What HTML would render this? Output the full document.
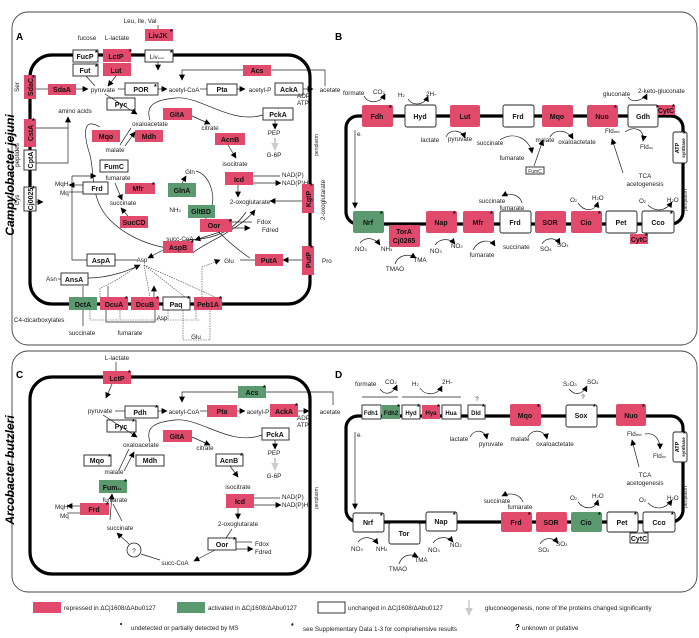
<!DOCTYPE html>
<html><head><meta charset="utf-8"><style>
html,body{margin:0;padding:0;background:#fff}
svg{display:block;font-family:"Liberation Sans",sans-serif}
.r{fill:#e24a6c}.g{fill:#5b9a6f}.w{fill:#fff;stroke:#222;stroke-width:.9}
.b{font-size:7px;font-weight:bold;text-anchor:middle;fill:#111}
.t{font-size:6.3px;fill:#222}
.c{text-anchor:middle}
.m{fill:none;stroke:#000;stroke-width:3.2}
.f{fill:none;stroke:#444;stroke-width:.9}
.l{fill:none;stroke:#222;stroke-width:.7}
.d{fill:none;stroke:#444;stroke-width:.6;stroke-dasharray:1.5 1}
.s{font-size:6px;font-weight:bold}
</style></head><body>
<svg width="699" height="638" viewBox="0 0 699 638" xmlns="http://www.w3.org/2000/svg">
<defs><marker id="a" viewBox="0 0 10 10" refX="9" refY="5" markerUnits="userSpaceOnUse" markerWidth="6" markerHeight="6" orient="auto"><path d="M0,0L10,5L0,10z" fill="#000"/></marker>
<marker id="gr" viewBox="0 0 10 10" refX="9" refY="5" markerUnits="userSpaceOnUse" markerWidth="8" markerHeight="8" orient="auto"><path d="M0,0L10,5L0,10z" fill="#ccc"/></marker></defs>

<!-- frames -->
<rect x="12" y="12" width="685" height="333" rx="16" class="f"/>
<rect x="12" y="351" width="685" height="241" rx="16" class="f"/>
<text transform="translate(14,175) rotate(-90)" style="font-size:12px;font-weight:bold;font-style:italic" text-anchor="middle">Campylobacter jejuni</text>
<text transform="translate(14,470) rotate(-90)" style="font-size:12px;font-weight:bold;font-style:italic" text-anchor="middle">Arcobacter butzleri</text>
<text x="16" y="40" style="font-size:10px;font-weight:bold">A</text>
<text x="335" y="40" style="font-size:10px;font-weight:bold">B</text>
<text x="16" y="378" style="font-size:10px;font-weight:bold">C</text>
<text x="335" y="378" style="font-size:10px;font-weight:bold">D</text>

<!-- cells -->
<rect x="30" y="55" width="280" height="249" rx="22" class="m"/>
<rect x="30" y="377" width="280" height="197" rx="22" class="m"/>
<rect x="346" y="116" width="337" height="108" rx="12" class="m"/>
<rect x="346" y="416" width="337" height="106" rx="12" class="m"/>

<!-- ===== Panel A ===== -->
<g>
<text x="140" y="23" class="t c">Leu, Ile, Val</text>
<line x1="158" y1="25" x2="158" y2="30" class="l"/>
<rect x="145" y="29" width="28" height="12" class="r"/><text x="158" y="38" class="b">LivJK</text>
<text x="87" y="40" class="t c">fucose</text><text x="117" y="40" class="t c">L-lactate</text>
<rect x="73" y="50" width="25" height="12" class="w"/><text x="85" y="59" class="b">FucP</text>
<rect x="103" y="49" width="28" height="13" class="r"/><text x="116" y="59" class="b">LctP</text>
<rect x="145" y="50" width="28" height="12" class="w"/><text x="157" y="59" class="t c">Liv<tspan style="font-size:3px">Leim</tspan></text>
<rect x="73" y="64" width="25" height="12" class="w"/><text x="85" y="73" class="b">Fut</text>
<rect x="103" y="63" width="28" height="13" class="r"/><text x="116" y="73" class="b">Lut</text>
<rect x="243" y="65" width="28" height="11" class="r"/><text x="257" y="73" class="b">Acs</text>
<path d="M271,70H325V86" class="l"/><path d="M243,70H182V80" class="l" marker-end="url(#a)"/>
<rect x="24" y="75" width="12" height="24" class="r"/><text transform="translate(33,87) rotate(-90)" class="b">SdaC</text>
<text transform="translate(19,87) rotate(-90)" class="t c">Ser</text>
<rect x="48" y="84" width="28" height="11" class="r"/><text x="62" y="92" class="b">SdaA</text>
<line x1="36" y1="89" x2="48" y2="89" class="l"/><line x1="76" y1="89" x2="88" y2="89" class="l" marker-end="url(#a)"/>
<text x="103" y="92" class="t c">pyruvate</text>
<line x1="118" y1="89" x2="125" y2="89" class="l"/>
<rect x="125" y="83" width="33" height="12" class="w"/><text x="141" y="92" class="b">POR</text>
<line x1="158" y1="89" x2="167" y2="89" class="l" marker-end="url(#a)"/>
<text x="184" y="92" class="t c">acetyl-CoA</text>
<line x1="200" y1="89" x2="207" y2="89" class="l"/>
<rect x="207" y="84" width="30" height="11" class="w"/><text x="222" y="92" class="b">Pta</text>
<line x1="237" y1="89" x2="245" y2="89" class="l" marker-end="url(#a)"/>
<text x="260" y="92" class="t c">acetyl-P</text>
<rect x="275" y="83" width="28" height="12" class="w"/><text x="289" y="92" class="b">AckA</text>
<line x1="303" y1="89" x2="313" y2="89" class="l" marker-end="url(#a)"/>
<text x="330" y="92" class="t c">acetate</text>
<text x="297" y="98" class="t">ADP</text><text x="297" y="105" class="t">ATP</text>
<path d="M86,76L95,86M116,76L108,86" class="l" marker-end="url(#a)"/>
<line x1="158" y1="62" x2="158" y2="70" class="l" marker-end="url(#a)"/>
<rect x="107" y="98" width="28" height="12" class="w"/><text x="121" y="107" class="b">Pyc</text>
<path d="M105,94L137,114" class="l" marker-end="url(#a)"/>
<text x="75" y="113" class="t c">amino acids</text>
<path d="M36,163H68V117" class="l" marker-end="url(#a)"/>
<path d="M36,128H68" class="l"/>
<rect x="163" y="108" width="29" height="12" class="r"/><text x="177" y="117" class="b">GltA</text>
<path d="M192,116L210,124" class="l" marker-end="url(#a)"/>
<path d="M150,120C145,105 155,100 175,98C200,95 230,125 263,115" class="l"/>
<rect x="263" y="108" width="30" height="12" class="w"/><text x="278" y="117" class="b">PckA</text>
<line x1="275" y1="120" x2="275" y2="129" class="l" marker-end="url(#a)"/>
<text x="274" y="135" class="t c">PEP</text>
<line x1="275" y1="138" x2="275" y2="150" stroke="#ccc" stroke-width="2" marker-end="url(#gr)"/>
<text x="274" y="157" class="t c">G-6P</text>
<text x="150" y="126" class="t c">oxaloacetate</text>
<text x="210" y="130" class="t c">citrate</text>
<rect x="92" y="130" width="28" height="12" class="r"/><text x="106" y="139" class="b">Mqo</text>
<rect x="135" y="130" width="28" height="12" class="r"/><text x="149" y="139" class="b">Mdh</text>
<path d="M120,145L131,128M125,146L135,132" class="l" marker-end="url(#a)"/>
<rect x="215" y="133" width="30" height="12" class="r"/><text x="230" y="142" class="b">AcnB</text>
<line x1="228" y1="145" x2="236" y2="158" class="l" marker-end="url(#a)"/>
<text x="115" y="152" class="t c">malate</text>
<text x="235" y="166" class="t c">isocitrate</text>
<rect x="100" y="160" width="28" height="12" class="w"/><text x="114" y="169" class="b">FumC</text>
<path d="M100,127C80,115 85,140 90,155C95,175 90,200 110,220C130,240 160,250 190,250" class="l"/>
<text x="118" y="180" class="t c">fumarate</text>
<path d="M72,176H96" class="l" marker-end="url(#a)"/><path d="M72,176V260H87" class="l"/>
<rect x="225" y="172" width="28" height="13" class="r"/><text x="239" y="182" class="b">Icd</text>
<text x="282" y="177" class="t">NAD(P)</text><text x="282" y="185" class="t">NAD(P)H</text>
<path d="M253,176H280" class="l"/><path d="M253,183H281" class="l" marker-end="url(#a)"/>
<line x1="238" y1="185" x2="238" y2="197" class="l" marker-end="url(#a)"/>
<text x="55" y="186" class="t">MqH</text><text x="60" y="195" class="t">Mq</text>
<rect x="83" y="182" width="25" height="12" class="w"/><text x="97" y="191" class="b">Frd</text>
<path d="M83,185H69" class="l" marker-end="url(#a)"/><path d="M69,192H83" class="l"/>
<rect x="125" y="183" width="30" height="11" class="r"/><text x="138" y="191" class="b">Mfr</text>
<path d="M115,183L122,200" class="l" marker-end="url(#a)"/>
<text x="123" y="205" class="t c">succinate</text>
<rect x="168" y="183" width="28" height="14" class="g"/><text x="182" y="193" class="b">GlnA</text>
<text x="190" y="174" class="t c">Gln</text>
<path d="M182,183L186,176" class="l" marker-end="url(#a)"/>
<path d="M196,171C210,175 215,195 212,205" class="l"/>
<path d="M196,205C205,220 230,245 250,258" class="l"/>
<path d="M193,253C200,245 240,230 255,210" class="l" marker-end="url(#a)"/>
<path d="M185,240C205,240 230,236 246,212" class="l"/>
<text x="175" y="212" class="t c">NH<tspan style="font-size:4px">3</tspan></text>
<rect x="188" y="205" width="27" height="13" class="g"/><text x="201" y="214" class="b">GltBD</text>
<text x="250" y="204" class="t c">2-oxoglutarate</text>
<path d="M302,201H270" class="l" marker-end="url(#a)"/>
<rect x="302" y="184" width="12" height="29" class="r"/><text transform="translate(311,199) rotate(-90)" class="b">KgtP</text>
<text transform="translate(325,200) rotate(-90)" class="t c">2-oxoglutarate</text>
<text transform="translate(318,145) rotate(-90)" class="t c" style="font-size:5px">periplasm</text>
<rect x="120" y="216" width="28" height="12" class="r"/><text x="134" y="225" class="b">SucCD</text>
<path d="M128,216L121,208" class="l" marker-end="url(#a)"/>
<rect x="200" y="219" width="32" height="13" class="r"/><text x="214" y="228" class="b">Oor</text>
<text x="257" y="224" class="t">Fdox</text><text x="262" y="232" class="t">Fdred</text>
<path d="M232,222H252" class="l"/><path d="M232,228H250" class="l" marker-end="url(#a)"/>
<path d="M220,232L195,240" class="l" marker-end="url(#a)"/>
<text x="180" y="241" class="t c">succ-CoA</text>
<rect x="163" y="241" width="30" height="12" class="r"/><text x="178" y="250" class="b">AspB</text>
<path d="M163,250L148,258" class="l" marker-end="url(#a)"/>
<text x="142" y="262" class="t c">Asp</text><text x="229" y="263" class="t c">Glu</text>
<rect x="255" y="254" width="28" height="12" class="r"/><text x="269" y="263" class="b">PutA</text>
<path d="M255,260H240M302,260H283" class="l" marker-end="url(#a)"/>
<rect x="302" y="246" width="12" height="29" class="r"/><text transform="translate(311,260) rotate(-90)" class="b">PutP</text>
<text x="322" y="263" class="t">Pro</text>
<rect x="87" y="254" width="28" height="12" class="w"/><text x="101" y="263" class="b">AspA</text>
<line x1="115" y1="260" x2="137" y2="260" class="l"/>
<text x="46" y="281" class="t">Asn</text><line x1="58" y1="279" x2="61" y2="279" class="l"/>
<rect x="61" y="273" width="27" height="12" class="w"/><text x="74" y="282" class="b">AnsA</text>
<path d="M88,278C110,278 130,270 140,265" class="l" marker-end="url(#a)"/>
<path d="M100,297V288C120,280 130,270 140,265M144,265L150,297M144,265L185,297M144,265L215,297" class="d"/>
<path d="M83,297V286M108,297V286M154,297V286" class="l" marker-end="url(#a)"/>
<path d="M202,300V267L220,260" class="d" marker-end="url(#a)"/>
<rect x="24" y="119" width="12" height="28" class="r"/><text transform="translate(33,133) rotate(-90)" class="b">CstA</text>
<text transform="translate(19,155) rotate(-90)" class="t c">peptides</text>
<rect x="24" y="150" width="12" height="20" class="w"/><text transform="translate(33,160) rotate(-90)" class="b">CptA</text>
<rect x="24" y="187" width="12" height="24" class="w"/><text transform="translate(33,199) rotate(-90)" class="b">Cj0025</text>
<text transform="translate(19,200) rotate(-90)" class="t c">Cys</text>
<path d="M36,202H43" class="l" marker-end="url(#a)"/>
<rect x="69" y="297" width="28" height="13" class="g"/><text x="83" y="307" class="b">DctA</text>
<rect x="100" y="297" width="28" height="13" class="r"/><text x="114" y="307" class="b">DcuA</text>
<rect x="131" y="297" width="28" height="13" class="r"/><text x="145" y="307" class="b">DcuB</text>
<rect x="163" y="297" width="27" height="13" class="w"/><text x="176" y="307" class="b">Paq</text>
<rect x="194" y="297" width="28" height="13" class="r"/><text x="208" y="307" class="b">Peb1A</text>
<text x="14" y="322" class="t">C4-dicarboxylates</text>
<path d="M83,310V326M106,310V322H155V310" class="l"/>
<path d="M90,310V320H200M120,310V320M168,310V320M196,310V320" class="d"/>
<path d="M183,310V340H210V310" class="d"/>
<text x="82" y="335" class="t c">succinate</text><text x="130" y="335" class="t c">fumarate</text>
<text x="162" y="320" class="t c">Asp</text><text x="196" y="339" class="t c">Glu</text>
</g>

<!-- ===== Panel B ===== -->
<g>
<rect x="362" y="105" width="31" height="22" rx="2" class="r"/><text x="377" y="119" class="b">Fdh</text>
<rect x="405" y="105" width="31" height="22" rx="2" class="w"/><text x="420" y="119" class="b">Hyd</text>
<rect x="450" y="105" width="30" height="22" rx="2" class="r"/><text x="465" y="119" class="b">Lut</text>
<rect x="503" y="105" width="31" height="22" rx="2" class="w"/><text x="518" y="119" class="b">Frd</text>
<rect x="542" y="105" width="31" height="22" rx="2" class="r"/><text x="557" y="119" class="b">Mqo</text>
<rect x="587" y="105" width="31" height="22" rx="2" class="r"/><text x="602" y="119" class="b">Nuo</text>
<rect x="628" y="105" width="30" height="22" rx="2" class="w"/><text x="643" y="119" class="b">Gdh</text>
<rect x="658" y="105" width="17" height="10" class="r"/><text x="666" y="113" class="b">CytC</text>
<rect x="673" y="132" width="14" height="31" rx="2" class="w"/>
<text transform="translate(679,148) rotate(-90)" class="b" style="font-size:5.5px">ATP</text>
<text transform="translate(685,148) rotate(-90)" class="b" style="font-size:4.5px">synthase</text>
<text transform="translate(687,200) rotate(-90)" class="t c" style="font-size:5px">periplasm</text>
<text x="343" y="95" class="t">formate</text><text x="373" y="94" class="t">CO<tspan style="font-size:4px">2</tspan></text>
<path d="M364,96C368,104 380,104 385,94" class="l" marker-end="url(#a)"/>
<text x="398" y="97" class="t">H<tspan style="font-size:4px">2</tspan></text><text x="426" y="96" class="t">2H<tspan style="font-size:4px">+</tspan></text>
<path d="M408,99C412,106 424,106 428,96" class="l" marker-end="url(#a)"/>
<text x="603" y="96" class="t">gluconate</text><text x="638" y="93" class="t">2-keto-gluconate</text>
<path d="M628,97C632,104 644,100 647,94" class="l" marker-end="url(#a)"/>
<text x="357" y="136" class="t">e<tspan style="font-size:4px">-</tspan></text>
<line x1="355" y1="130" x2="355" y2="208" class="l" marker-end="url(#a)"/>
<text x="430" y="142" class="t c">lactate</text><text x="460" y="141" class="t c">pyruvate</text>
<path d="M446,137C450,128 462,130 465,138" class="l" marker-end="url(#a)"/>
<text x="490" y="145" class="t c">succinate</text>
<path d="M500,140C515,130 530,140 532,153" class="l" marker-end="url(#a)"/>
<text x="512" y="160" class="t c">fumarate</text>
<rect x="526" y="167" width="18" height="7" class="w"/><text x="535" y="173" class="t c" style="font-size:5px">FumC</text>
<path d="M534,166L543,140" class="l" marker-end="url(#a)"/>
<text x="545" y="142" class="t c">malate</text><text x="577" y="144" class="t c">oxaloactetate</text>
<path d="M550,137C555,128 568,130 573,139" class="l" marker-end="url(#a)"/>
<text x="605" y="133" class="t">Fld<tspan style="font-size:4px">red</tspan></text><text x="640" y="149" class="t">Fld<tspan style="font-size:4px">ox</tspan></text>
<path d="M625,132C635,125 645,130 643,141" class="l" marker-end="url(#a)"/>
<path d="M623,173L612,139" class="l" marker-end="url(#a)"/>
<text x="645" y="178" class="t c">TCA</text><text x="645" y="186" class="t c">acetogenesis</text>
<rect x="353" y="211" width="31" height="22" rx="2" class="g"/><text x="368" y="225" class="b">Nrf</text>
<rect x="389" y="225" width="31" height="22" rx="2" class="r"/><text x="404" y="234" class="b">TorA</text><text x="404" y="243" class="b">Cj0265</text>
<rect x="426" y="211" width="31" height="22" rx="2" class="r"/><text x="441" y="225" class="b">Nap</text>
<rect x="463" y="211" width="31" height="22" rx="2" class="r"/><text x="478" y="225" class="b">Mfr</text>
<rect x="500" y="211" width="31" height="22" rx="2" class="w"/><text x="515" y="225" class="b">Frd</text>
<rect x="535" y="211" width="31" height="22" rx="2" class="r"/><text x="550" y="225" class="b">SOR</text>
<rect x="571" y="211" width="31" height="22" rx="2" class="r"/><text x="586" y="225" class="b">Cio</text>
<rect x="606" y="211" width="31" height="22" rx="2" class="w"/><text x="621" y="225" class="b">Pet</text>
<rect x="642" y="211" width="32" height="22" rx="2" class="w"/><text x="658" y="225" class="b">Cco</text>
<rect x="630" y="234" width="18" height="10" class="r"/><text x="639" y="242" class="b">CytC</text>
<text x="492" y="203" class="t c">succinate</text><text x="512" y="210" class="t c">fumarate</text>
<path d="M522,203C520,195 510,192 502,196" class="l" marker-end="url(#a)"/>
<text x="570" y="202" class="t">O<tspan style="font-size:4px">2</tspan></text><text x="592" y="200" class="t">H<tspan style="font-size:4px">2</tspan>O</text>
<path d="M578,203C584,212 595,212 598,202" class="l" marker-end="url(#a)"/>
<text x="639" y="203" class="t">O<tspan style="font-size:4px">2</tspan></text><text x="667" y="202" class="t">H<tspan style="font-size:4px">2</tspan>O</text>
<path d="M648,205C655,212 665,212 672,202" class="l" marker-end="url(#a)"/>
<text x="355" y="251" class="t">NO<tspan style="font-size:4px">3</tspan></text><text x="381" y="251" class="t">NH<tspan style="font-size:4px">4</tspan></text>
<path d="M360,243C366,236 375,238 380,245" class="l" marker-end="url(#a)"/>
<text x="395" y="271" class="t c">TMAO</text><text x="420" y="262" class="t c">TMA</text>
<path d="M395,264C398,255 408,253 416,258" class="l" marker-end="url(#a)"/>
<text x="430" y="253" class="t">NO<tspan style="font-size:4px">3</tspan></text><text x="451" y="248" class="t">NO<tspan style="font-size:4px">2</tspan></text>
<path d="M435,245C440,238 450,238 455,244" class="l" marker-end="url(#a)"/>
<text x="482" y="257" class="t c">fumarate</text><text x="503" y="249" class="t">succinate</text>
<path d="M473,250C478,240 490,238 495,246" class="l" marker-end="url(#a)"/>
<text x="540" y="251" class="t">SO<tspan style="font-size:4px">4</tspan></text><text x="557" y="247" class="t">SO<tspan style="font-size:4px">3</tspan></text>
<path d="M542,244C546,237 556,237 560,244" class="l" marker-end="url(#a)"/>
</g>

<!-- ===== Panel C ===== -->
<g>
<text x="117" y="360" class="t c">L-lactate</text><line x1="116" y1="362" x2="116" y2="371" class="l"/>
<rect x="103" y="371" width="28" height="13" class="r"/><text x="117" y="381" class="b">LctP</text>
<path d="M112,384L106,398" class="l" marker-end="url(#a)"/>
<rect x="238" y="386" width="28" height="12" class="g"/><text x="252" y="395" class="b">Acs</text>
<path d="M266,392H333V405" class="l"/><path d="M238,392H182V402" class="l" marker-end="url(#a)"/>
<text x="100" y="413" class="t c">pyruvate</text>
<line x1="115" y1="411" x2="125" y2="411" class="l"/>
<rect x="125" y="406" width="33" height="12" class="w"/><text x="140" y="415" class="b">Pdh</text>
<line x1="158" y1="411" x2="167" y2="411" class="l" marker-end="url(#a)"/>
<text x="184" y="414" class="t c">acetyl-CoA</text><line x1="200" y1="411" x2="207" y2="411" class="l"/>
<rect x="207" y="405" width="30" height="12" class="r"/><text x="222" y="414" class="b">Pta</text>
<line x1="237" y1="411" x2="245" y2="411" class="l" marker-end="url(#a)"/>
<text x="258" y="414" class="t c">acetyl-P</text>
<rect x="270" y="404" width="28" height="13" class="r"/><text x="284" y="414" class="b">AckA</text>
<line x1="298" y1="411" x2="309" y2="411" class="l" marker-end="url(#a)"/>
<text x="330" y="414" class="t c">acetate</text>
<text x="297" y="420" class="t">ADP</text><text x="297" y="427" class="t">ATP</text>
<rect x="107" y="420" width="29" height="12" class="w"/><text x="121" y="429" class="b">Pyc</text>
<path d="M103,415L137,437" class="l" marker-end="url(#a)"/>
<rect x="163" y="430" width="29" height="12" class="r"/><text x="177" y="439" class="b">GltA</text>
<path d="M192,437L210,445" class="l" marker-end="url(#a)"/>
<path d="M150,442C145,427 155,422 175,420C200,417 230,447 262,435" class="l"/>
<rect x="262" y="428" width="27" height="12" class="w"/><text x="275" y="437" class="b">PckA</text>
<line x1="275" y1="440" x2="275" y2="449" class="l" marker-end="url(#a)"/>
<text x="274" y="455" class="t c">PEP</text>
<line x1="275" y1="458" x2="275" y2="470" stroke="#ccc" stroke-width="2" marker-end="url(#gr)"/>
<text x="274" y="478" class="t c">G-6P</text>
<text x="141" y="447" class="t c">oxaloacetate</text><text x="205" y="450" class="t c">citrate</text>
<rect x="84" y="455" width="27" height="11" class="w"/><text x="97" y="463" class="b">Mqo</text>
<rect x="136" y="455" width="28" height="11" class="w"/><text x="150" y="463" class="b">Mdh</text>
<path d="M119,470L129,449M124,471L134,452" class="l" marker-end="url(#a)"/>
<rect x="216" y="454" width="27" height="12" class="w"/><text x="229" y="463" class="b">AcnB</text>
<line x1="230" y1="466" x2="238" y2="477" class="l" marker-end="url(#a)"/>
<text x="114" y="474" class="t c">malate</text><text x="238" y="489" class="t c">isocitrate</text>
<rect x="99" y="480" width="28" height="13" class="g"/><text x="112" y="490" class="b">Fum<tspan style="font-size:3px">A1</tspan></text>
<text x="115" y="502" class="t c">fumarate</text>
<path d="M113,504L122,521M110,520L112,494" class="l" marker-end="url(#a)"/>
<rect x="80" y="503" width="29" height="12" class="r"/><text x="94" y="512" class="b">Frd</text>
<text x="55" y="509" class="t">MqH</text><text x="60" y="518" class="t">Mq</text>
<path d="M80,506H67" class="l" marker-end="url(#a)"/><path d="M67,513H80" class="l"/>
<text x="120" y="530" class="t c">succinate</text>
<rect x="226" y="494" width="28" height="14" class="r"/><text x="240" y="504" class="b">Icd</text>
<text x="282" y="499" class="t">NAD(P)</text><text x="282" y="507" class="t">NAD(P)H</text>
<path d="M254,498H280" class="l"/><path d="M254,505H281" class="l" marker-end="url(#a)"/>
<line x1="238" y1="508" x2="238" y2="519" class="l" marker-end="url(#a)"/>
<text x="238" y="526" class="t c">2-oxoglutarate</text>
<line x1="232" y1="529" x2="226" y2="538" class="l"/>
<rect x="208" y="538" width="28" height="12" class="w"/><text x="222" y="547" class="b">Oor</text>
<text x="255" y="546" class="t">Fdox</text><text x="255" y="554" class="t">Fdred</text>
<path d="M236,542H252" class="l"/><path d="M236,549H253" class="l" marker-end="url(#a)"/>
<path d="M215,550L194,561" class="l" marker-end="url(#a)"/>
<text x="175" y="565" class="t c">succ-CoA</text>
<circle cx="134" cy="550" r="7" fill="#fff" stroke="#222" stroke-width=".8"/><text x="134" y="553" class="t c">?</text>
<path d="M160,560L141,554" class="l"/><path d="M129,544L117,533" class="l" marker-end="url(#a)"/>
<text transform="translate(318,498) rotate(-90)" class="t c" style="font-size:5px">periplasm</text>
</g>

<!-- ===== Panel D ===== -->
<g>
<text x="355" y="386" class="t">formate</text><text x="385" y="384" class="t">CO<tspan style="font-size:4px">2</tspan></text>
<path d="M380,389C385,396 393,394 397,385" class="l" marker-end="url(#a)"/>
<text x="412" y="386" class="t">H<tspan style="font-size:4px">2</tspan></text><text x="442" y="384" class="t">2H<tspan style="font-size:4px">+</tspan></text>
<path d="M420,388C425,396 437,396 442,386" class="l" marker-end="url(#a)"/>
<path d="M362,397H398M402,397H461" class="l"/>
<rect x="362" y="405" width="19" height="14" class="w"/><text x="371" y="415" class="b" style="font-size:6px">Fdh1</text>
<rect x="382" y="405" width="18" height="14" class="g"/><text x="391" y="415" class="b" style="font-size:6px">Fdh2</text>
<rect x="402" y="405" width="18" height="14" class="w"/><text x="411" y="415" class="b" style="font-size:6px">Hyd</text>
<rect x="422" y="405" width="18" height="14" class="r"/><text x="431" y="415" class="b" style="font-size:6px">Hya</text>
<rect x="442" y="405" width="19" height="14" class="w"/><text x="451" y="415" class="b" style="font-size:6px">Hua</text>
<rect x="468" y="405" width="17" height="14" class="w"/><text x="476" y="415" class="b" style="font-size:6px">Dld</text>
<text x="477" y="401" class="t c">?</text>
<rect x="510" y="404" width="31" height="22" rx="2" class="r"/><text x="525" y="418" class="b">Mqo</text>
<rect x="566" y="405" width="31" height="22" rx="2" class="w"/><text x="581" y="418" class="b">Sox</text>
<rect x="616" y="404" width="30" height="22" rx="2" class="r"/><text x="631" y="418" class="b">Nuo</text>
<text x="563" y="386" class="t">S<tspan style="font-size:4px">2</tspan>O<tspan style="font-size:4px">3</tspan></text><text x="587" y="384" class="t">SO<tspan style="font-size:4px">4</tspan></text>
<path d="M569,389C575,396 582,395 587,386" class="l" marker-end="url(#a)"/>
<text x="583" y="399" class="t c">?</text>
<rect x="673" y="432" width="14" height="30" rx="2" class="w"/>
<text transform="translate(679,447) rotate(-90)" class="b" style="font-size:5.5px">ATP</text>
<text transform="translate(685,447) rotate(-90)" class="b" style="font-size:4.5px">synthase</text>
<text transform="translate(687,497) rotate(-90)" class="t c" style="font-size:5px">periplasm</text>
<text x="357" y="437" class="t">e<tspan style="font-size:4px">-</tspan></text>
<line x1="355" y1="432" x2="355" y2="509" class="l" marker-end="url(#a)"/>
<text x="459" y="441" class="t c">lactate</text><text x="491" y="446" class="t c">pyruvate</text>
<path d="M470,437C475,428 485,430 487,439" class="l" marker-end="url(#a)"/>
<text x="520" y="441" class="t c">malate</text><text x="555" y="446" class="t c">oxaloactetate</text>
<path d="M528,437C532,428 545,430 547,439" class="l" marker-end="url(#a)"/>
<text x="627" y="436" class="t">Fld<tspan style="font-size:4px">red</tspan></text><text x="653" y="458" class="t">Fld<tspan style="font-size:4px">ox</tspan></text>
<path d="M645,434C655,432 660,440 660,449" class="l" marker-end="url(#a)"/>
<path d="M639,467L632,440" class="l" marker-end="url(#a)"/>
<text x="645" y="477" class="t c">TCA</text><text x="645" y="485" class="t c">acetogenesis</text>
<rect x="353" y="513" width="31" height="19" rx="2" class="w"/><text x="368" y="525" class="b">Nrf</text>
<rect x="389" y="523" width="31" height="21" rx="2" class="w"/><text x="404" y="536" class="b">Tor</text>
<rect x="426" y="512" width="31" height="19" rx="2" class="w"/><text x="441" y="524" class="b">Nap</text>
<rect x="501" y="512" width="31" height="20" rx="2" class="r"/><text x="516" y="525" class="b">Frd</text>
<rect x="536" y="512" width="31" height="20" rx="2" class="r"/><text x="551" y="525" class="b">SOR</text>
<rect x="571" y="512" width="31" height="20" rx="2" class="g"/><text x="586" y="525" class="b">Cio</text>
<rect x="607" y="512" width="31" height="20" rx="2" class="w"/><text x="622" y="525" class="b">Pet</text>
<rect x="643" y="512" width="32" height="20" rx="2" class="w"/><text x="659" y="525" class="b">Cco</text>
<rect x="630" y="533" width="18" height="10" class="w"/><text x="639" y="541" class="b">CytC</text>
<text x="497" y="503" class="t c">succinate</text><text x="520" y="509" class="t c">fumarate</text>
<path d="M523,502C520,494 510,492 502,496" class="l" marker-end="url(#a)"/>
<text x="570" y="500" class="t">O<tspan style="font-size:4px">2</tspan></text><text x="592" y="498" class="t">H<tspan style="font-size:4px">2</tspan>O</text>
<path d="M578,502C584,510 595,510 598,500" class="l" marker-end="url(#a)"/>
<text x="639" y="502" class="t">O<tspan style="font-size:4px">2</tspan></text><text x="667" y="500" class="t">H<tspan style="font-size:4px">2</tspan>O</text>
<path d="M648,503C655,510 665,510 672,500" class="l" marker-end="url(#a)"/>
<text x="351" y="551" class="t">NO<tspan style="font-size:4px">3</tspan></text><text x="376" y="551" class="t">NH<tspan style="font-size:4px">4</tspan></text>
<path d="M358,542C364,535 373,537 378,544" class="l" marker-end="url(#a)"/>
<text x="398" y="571" class="t c">TMAO</text><text x="421" y="562" class="t c">TMA</text>
<path d="M399,564C402,555 410,553 418,557" class="l" marker-end="url(#a)"/>
<text x="428" y="552" class="t">NO<tspan style="font-size:4px">3</tspan></text><text x="450" y="547" class="t">NO<tspan style="font-size:4px">2</tspan></text>
<path d="M433,543C438,536 448,536 453,542" class="l" marker-end="url(#a)"/>
<text x="538" y="552" class="t">SO<tspan style="font-size:4px">4</tspan></text><text x="556" y="546" class="t">SO<tspan style="font-size:4px">3</tspan></text>
<path d="M540,544C544,537 553,537 558,543" class="l" marker-end="url(#a)"/>
</g>

<!-- legend -->
<g>
<rect x="33" y="602" width="28" height="11" class="r"/>
<text x="64" y="610" class="t">repressed in ΔCj1608/ΔAbu0127</text>
<rect x="177" y="602" width="28" height="11" class="g"/>
<text x="208" y="610" class="t">activated in ΔCj1608/ΔAbu0127</text>
<rect x="318" y="602" width="27" height="11" class="w"/>
<text x="348" y="610" class="t">unchanged in ΔCj1608/ΔAbu0127</text>
<line x1="469" y1="600" x2="469" y2="615" stroke="#ccc" stroke-width="1.5" marker-end="url(#gr)"/>
<text x="485" y="610" class="t">gluconeogenesis, none of the proteins changed significantly</text>
<circle cx="121" cy="624" r="1" fill="#000"/>
<text x="131" y="630" class="t">undetected or partially detected by MS</text>
<text x="291" y="628" style="font-size:7px;font-weight:bold">*</text>
<text x="303" y="631" class="t">see Supplementary Data 1-3 for comprehensive results</text>
<text x="515" y="630" style="font-size:8px;font-weight:bold">?</text>
<text x="522" y="630" class="t">unknown or putative</text>
</g>

<!-- asterisks -->
<g style="font-size:7px;font-weight:bold">
<text x="95" y="55">*</text><text x="129" y="54">*</text><text x="170" y="55">*</text><text x="170" y="34">*</text><text x="95" y="69">*</text>
<text x="154" y="89">*</text><text x="32" y="80">*</text><text x="32" y="123">*</text><text x="32" y="191">*</text>
<text x="152" y="187">*</text><text x="229" y="224">*</text><text x="310" y="188">*</text><text x="310" y="250">*</text><text x="191" y="245">*</text>
<text x="125" y="301">*</text><text x="156" y="301">*</text><text x="187" y="301">*</text><text x="219" y="301">*</text>
<text x="389" y="110">*</text><text x="614" y="110">*</text><text x="656" y="110">*</text><text x="672" y="109">*</text><text x="683" y="136">*</text>
<text x="380" y="216">*</text><text x="453" y="216">*</text><text x="490" y="216">*</text><text x="598" y="216">*</text><text x="670" y="216">*</text><text x="645" y="238">*</text>
<text x="128" y="375">*</text><text x="263" y="390">*</text><text x="155" y="410">*</text><text x="295" y="408">*</text><text x="132" y="424">*</text>
<text x="108" y="459">*</text><text x="240" y="458">*</text><text x="124" y="484">*</text><text x="106" y="507">*</text><text x="233" y="542">*</text>
<text x="397" y="409">*</text><text x="417" y="409">*</text><text x="437" y="409">*</text><text x="482" y="409">*</text>
<text x="537" y="409">*</text><text x="593" y="409">*</text><text x="642" y="409">*</text><text x="683" y="436">*</text>
<text x="380" y="518">*</text><text x="453" y="517">*</text><text x="528" y="517">*</text><text x="598" y="517">*</text><text x="634" y="517">*</text><text x="671" y="517">*</text>
</g>
</svg>
</body></html>
